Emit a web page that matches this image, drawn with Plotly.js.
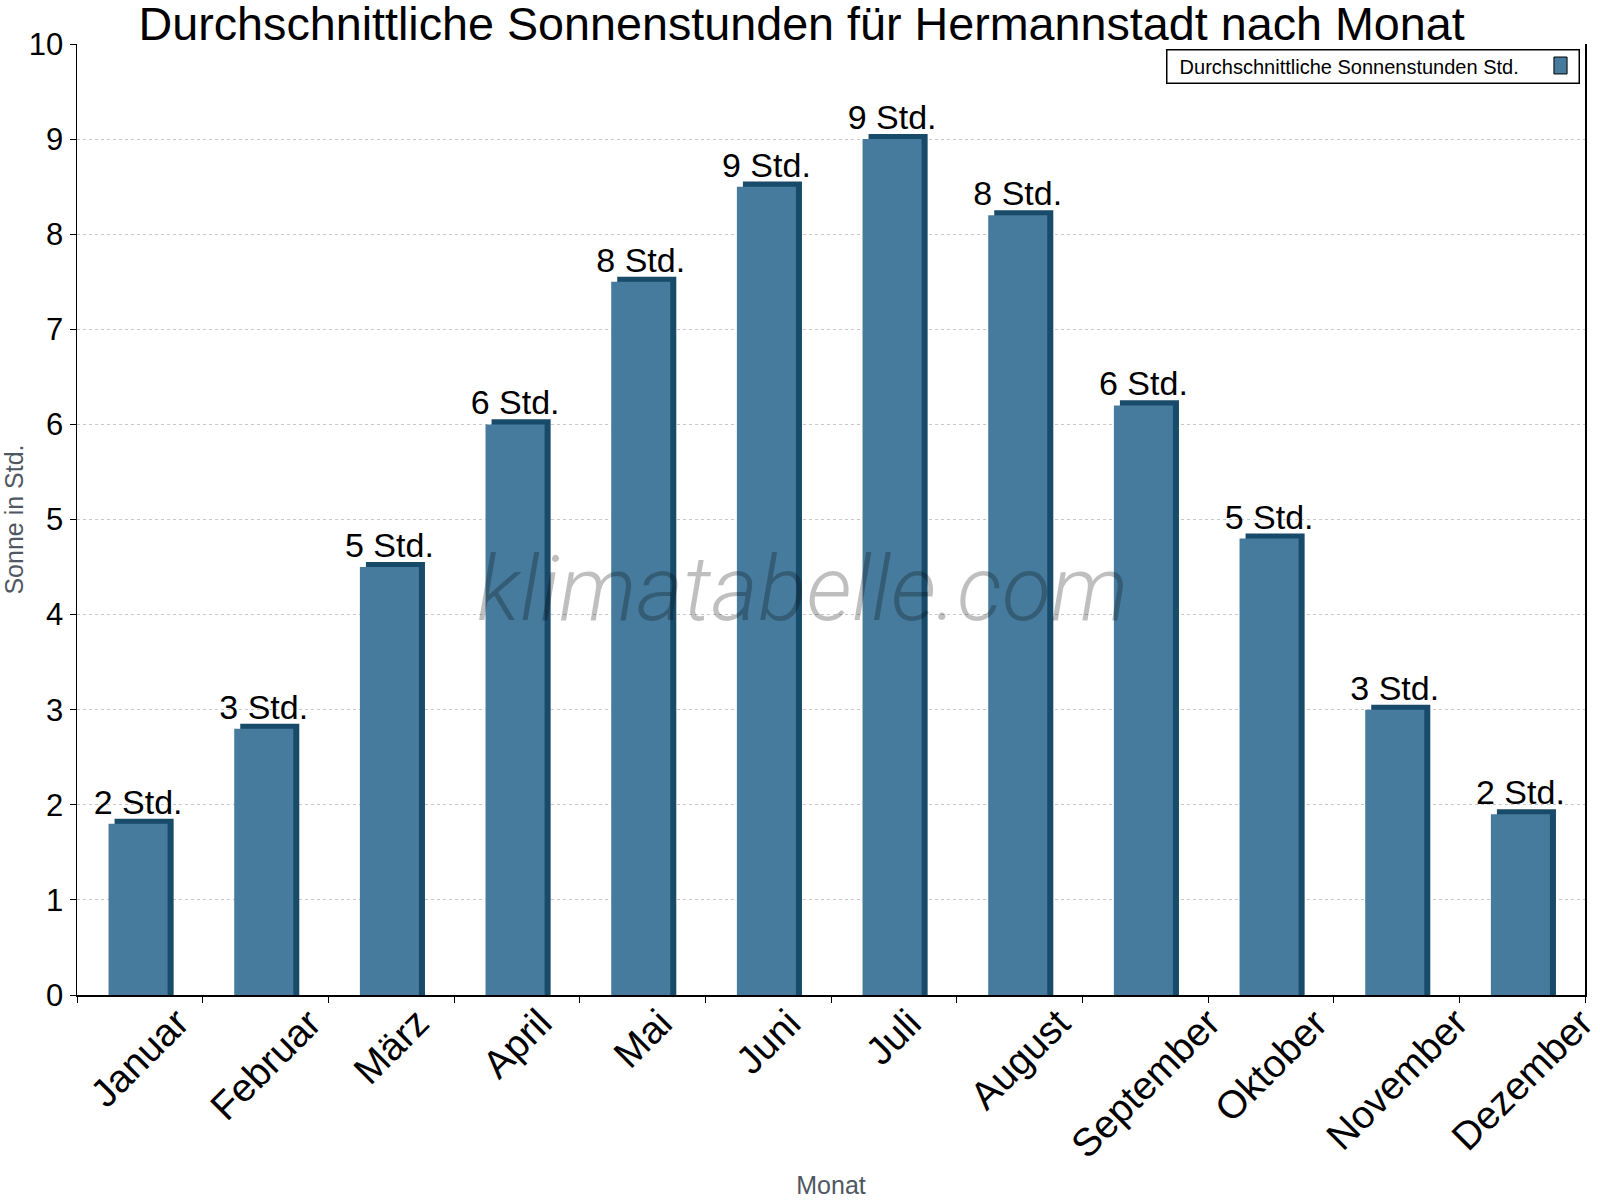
<!DOCTYPE html>
<html>
<head>
<meta charset="utf-8">
<script src="https://cdn.plot.ly/plotly-3.0.1.min.js"></script>
<style>html,body{margin:0;padding:0;background:#fff;}#chart{width:1600px;height:1200px;}</style>
</head>
<body>
<div id="chart"></div>
<script>
// ---- data ----
const months = ["Januar","Februar","März","April","Mai","Juni","Juli","August","September","Oktober","November","Dezember"];
const sunHours = [1.8, 2.8, 4.5, 6.0, 7.5, 8.5, 9.0, 8.2, 6.2, 4.8, 3.0, 1.9];
const seriesName = "Durchschnittliche Sonnenstunden Std.";
const unitSuffix = " Std.";

// ---- style ----
const FONT = "Liberation Sans, Arial, sans-serif";
const frontColor = "#467b9d";
const sideColor = "#184a6a";
const depthY = 0.053;   // visual 3D depth (y units)
const frontWidth = 0.47;
const frontOffset = -0.249;
const sideShift = 0.048;

const labels = sunHours.map(v => Math.round(v) + unitSuffix);

const shadow = {
  type: "bar", x: months, y: sunHours.map(v => v + depthY),
  width: frontWidth, offset: frontOffset + sideShift,
  marker: {color: sideColor, line: {width: 0}},
  hoverinfo: "skip", showlegend: false
};
const front = {
  type: "bar", x: months, y: sunHours, name: seriesName,
  width: frontWidth, offset: frontOffset,
  marker: {color: frontColor, line: {width: 0}},
  text: labels, textposition: "outside", cliponaxis: false, constraintext: "none",
  textfont: {family: FONT, size: 34, color: "#000"},
  showlegend: false
};

// month labels, rotated, centred under each category
const monthLabels = months.map(m => ({
  text: m, xref: "x", yref: "paper", x: m, y: -0.003,
  xanchor: "center", yanchor: "top", textangle: -45, showarrow: false,
  font: {family: FONT, size: 39, color: "#000"}
}));

const layout = {
  width: 1600, height: 1200,
  paper_bgcolor: "#fff", plot_bgcolor: "#fff",
  margin: {l: 77, r: 15, t: 44, b: 205},
  barmode: "overlay",
  font: {family: FONT, color: "#000"},
  title: {text: "Durchschnittliche Sonnenstunden für Hermannstadt nach Monat",
          font: {family: FONT, size: 46.7, color: "#000"},
          x: 0.501, xanchor: "center", y: 0.9805, yanchor: "middle", yref: "container"},
  xaxis: {
    type: "category", range: [-0.5, months.length - 0.5], autorange: false,
    tickson: "boundaries", showticklabels: false,
    ticks: "outside", ticklen: 6, tickcolor: "#000", tickwidth: 1,
    showline: true, linecolor: "#000", linewidth: 1.5,
    showgrid: false,
    title: {text: "Monat", font: {family: FONT, size: 25, color: "#4f5762"}, standoff: 181},
    automargin: false
  },
  yaxis: {
    range: [0, 10], autorange: false, dtick: 1, tick0: 0,
    ticks: "outside", ticklen: 6, tickcolor: "#000", tickwidth: 1,
    showline: true, linecolor: "#000", linewidth: 1.5, mirror: true,
    showgrid: true, gridcolor: "#c8c8c8", griddash: "dot", gridwidth: 1,
    zeroline: false,
    tickfont: {family: FONT, size: 31, color: "#000"},
    title: {text: "Sonne in Std.", font: {family: FONT, size: 25, color: "#4f5762"}, standoff: 12},
    automargin: false
  },
  showlegend: false,
  annotations: monthLabels.concat([
    {text: "\u00A0\u00A0" + seriesName, xref: "paper", yref: "paper", x: 0.9967, y: 0.9947,
     xanchor: "right", yanchor: "top", showarrow: false, align: "left",
     width: 409, height: 30, borderpad: 1, bordercolor: "#000", borderwidth: 1.5,
     font: {family: FONT, size: 20, color: "#000"}},
    {text: "klimatabelle.com", xref: "paper", yref: "paper", x: 0.4814, y: 0.426,
     xanchor: "center", yanchor: "middle", showarrow: false,
     font: {family: "Roboto, sans-serif", size: 90, weight: 300, style: "italic", color: "rgba(0,0,0,0.25)"}}
  ]),
  shapes: [
    {type: "rect", xref: "paper", yref: "paper", x0: 0.9794, x1: 0.9881, y0: 0.9685, y1: 0.9863,
     fillcolor: frontColor, line: {color: "#000", width: 1}, layer: "above"}
  ]
};

Plotly.newPlot("chart", [shadow, front], layout, {displayModeBar: false, staticPlot: true});
</script>
</body>
</html>
